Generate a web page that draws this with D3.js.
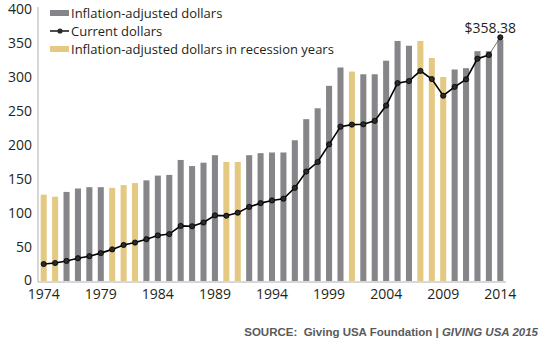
<!DOCTYPE html>
<html>
<head>
<meta charset="utf-8">
<script src="https://cdn.jsdelivr.net/npm/d3@7"></script>
<style>
  body { margin: 0; background: #fff; }
  svg { display: block; }
</style>
</head>
<body>
<div id="chart"></div>
<script>
// giving totals 1974-2014, billions of dollars

var years = d3.range(1974, 2015)

var adjusted = [127, 124, 131, 136, 138, 138, 137, 141, 144, 148, 155,
                156, 178, 169, 174, 185, 175, 175, 185, 188, 189,
                189, 207, 238, 254, 287, 314, 308, 304, 304, 324,
                353, 346, 353, 328, 300, 311, 313, 338, 338, 355]

var current = [25, 26.5, 29.5, 33.5, 36.5, 41, 46.5, 53, 56.5, 61.5, 67,
               69, 81, 80.5, 86, 96.5, 96, 100.5, 109, 114.5, 118.5,
               121, 137, 161, 175, 201, 227, 230, 230.5, 235.5, 258,
               291, 294, 309, 297, 272.5, 285.5, 296.5, 327, 332.5, 358.38]

var recessionYears = [1974, 1975, 1980, 1981, 1982, 1990, 1991, 2001, 2007, 2008, 2009]

var yTicks = [0, 50, 100, 150, 200, 250, 300, 350, 400]
var xTicks = [1974, 1979, 1984, 1989, 1994, 1999, 2004, 2009, 2014]

var legendLabels = ['Inflation-adjusted dollars', 'Current dollars',
                    'Inflation-adjusted dollars in recession years']

var W = 547, H = 338
var grey = '#86868a', gold = '#e4c983', ink = '#231f20'
var font = "'Open Sans', 'DejaVu Sans', sans-serif"

var svg = d3.select('#chart').append('svg')
    .attr('width', W)
    .attr('height', H)

var x = d3.scaleBand()
    .domain(years)
    .range([38, 506])
    .paddingInner(0.47)
    .paddingOuter(0.235)

var y = d3.scaleLinear()
    .domain([0, 400])
    .range([281, 9])

var cx = d => x(d) + x.bandwidth() / 2

// bars
svg.append('g').selectAll('rect')
    .data(years)
    .enter().append('rect')
    .attr('x', d => x(d))
    .attr('width', x.bandwidth())
    .attr('y', (d, i) => y(adjusted[i]))
    .attr('height', (d, i) => y(0) - y(adjusted[i]))
    .attr('fill', d => recessionYears.includes(d) ? gold : grey)

// axes lines only, no tick marks
svg.append('line')
    .attr('x1', 38).attr('x2', 38)
    .attr('y1', y(400) - 2).attr('y2', y(0) + 1)
    .attr('stroke', '#b0b0b0').attr('stroke-width', 1)

svg.append('line')
    .attr('x1', 38).attr('x2', 506)
    .attr('y1', y(0) + 1).attr('y2', y(0) + 1)
    .attr('stroke', '#b0b0b0').attr('stroke-width', 1)

// y labels
svg.append('g').selectAll('text')
    .data(yTicks)
    .enter().append('text')
    .attr('x', 32)
    .attr('y', d => y(d))
    .attr('dy', d => d === 0 ? '0.3em' : '0.35em')
    .attr('text-anchor', 'end')
    .style('font-family', font)
    .style('font-size', '14px')
    .attr('fill', ink)
    .text(d => d)

// x labels
svg.append('g').selectAll('text')
    .data(xTicks)
    .enter().append('text')
    .attr('x', d => cx(d))
    .attr('y', 299)
    .attr('text-anchor', 'middle')
    .style('font-family', font)
    .style('font-size', '14px')
    .attr('fill', ink)
    .text(d => d)

// current dollars line
var pts = years.map((d, i) => ({yr: d, v: current[i]}))
var line = d3.line().x(d => cx(d.yr)).y(d => y(d.v))

svg.append('path')
    .attr('d', line(pts.slice(0, -1)))
    .attr('fill', 'none')
    .attr('stroke', '#000')
    .attr('stroke-width', 1.6)

svg.append('path')
    .attr('d', line(pts.slice(-2)))
    .attr('fill', 'none')
    .attr('stroke', '#555')
    .attr('stroke-width', 0.8)

svg.append('g').selectAll('circle')
    .data(pts)
    .enter().append('circle')
    .attr('cx', d => cx(d.yr))
    .attr('cy', d => y(d.v))
    .attr('r', 2.6)
    .attr('fill', '#2a2a2a')
    .attr('stroke', '#000')
    .attr('stroke-width', 0.8)

// last value label
var last = pts[pts.length - 1]
svg.append('text')
    .attr('x', cx(last.yr) - 10)
    .attr('y', 33)
    .attr('text-anchor', 'middle')
    .style('font-family', font)
    .style('font-size', '14px')
    .attr('fill', ink)
    .text('$' + last.v.toFixed(2))

// legend
var lg = svg.append('g').attr('transform', 'translate(50,0)')
var rowY = [13, 31, 49]

lg.append('rect').attr('x', 0).attr('y', rowY[0] - 3).attr('width', 19).attr('height', 6).attr('fill', grey)
lg.append('line').attr('x1', 0).attr('x2', 19).attr('y1', rowY[1]).attr('y2', rowY[1])
    .attr('stroke', '#000').attr('stroke-width', 1.4)
lg.append('circle').attr('cx', 10).attr('cy', rowY[1]).attr('r', 2.6).attr('fill', '#2a2a2a')
lg.append('rect').attr('x', 0).attr('y', rowY[2] - 3).attr('width', 19).attr('height', 6).attr('fill', gold)

lg.selectAll('text.lab')
    .data(legendLabels)
    .enter().append('text')
    .attr('class', 'lab')
    .attr('x', 21)
    .attr('y', (d, i) => rowY[i])
    .attr('dy', '0.35em')
    .style('font-family', font)
    .style('font-size', '13px')
    .attr('fill', ink)
    .text(d => d)

// source
var src = svg.append('text')
    .attr('x', 538)
    .attr('y', 336)
    .attr('text-anchor', 'end')
    .style('font-family', "'Liberation Sans', Arial, sans-serif")
    .style('font-size', '11.5px')
    .style('font-weight', 'bold')
    .attr('fill', '#5a5a5a')
src.append('tspan').attr('xml:space', 'preserve').text('SOURCE:  Giving USA Foundation | ')
src.append('tspan').style('font-style', 'italic').text('GIVING USA 2015')
</script>
</body>
</html>
